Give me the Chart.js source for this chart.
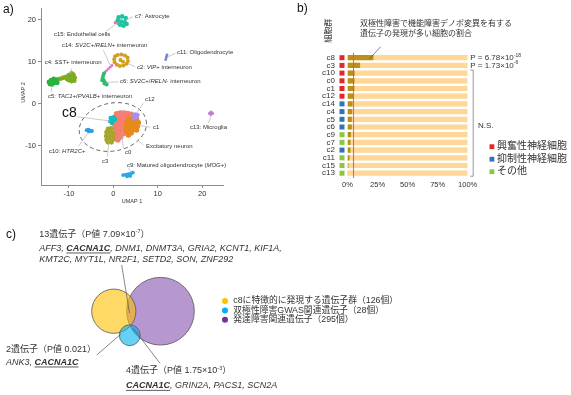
<!DOCTYPE html>
<html>
<head>
<meta charset="utf-8">
<script src="https://cdn.jsdelivr.net/npm/chart.js@4.4.1/dist/chart.umd.min.js"></script>
<style>
    html, body { margin: 0; padding: 0; background: #fff; }
    body { width: 571px; height: 395px; position: relative; overflow: hidden; }
    canvas { position: absolute; }
    #umap { left: 0; top: 0; width: 290px; height: 206px; }
    #bars { left: 290px; top: 0; width: 281px; height: 200px; }
    #venn { left: 0; top: 210px; width: 571px; height: 185px; }
</style>
</head>
<body>
<canvas id="umap" width="290" height="206"></canvas>
<canvas id="bars" width="281" height="200"></canvas>
<canvas id="venn" width="571" height="185"></canvas>

<script>
// ---- panel a: UMAP clusters, [UMAP 1, UMAP 2] ----
const umapC0 = [[0.8,-2.5],[1.6,-2.3],[2.4,-2.3],[3.2,-2.4],[4.0,-2.6],[0.5,-3.3],[1.3,-3.2],[2.1,-3.1],[2.9,-3.2],[3.7,-3.3],
    [0.5,-4.2],[1.3,-4.1],[2.1,-4.0],[2.9,-4.2],[0.5,-5.1],[1.3,-5.0],[2.1,-5.0],[2.8,-5.3],[0.6,-6.0],[1.4,-6.0],[2.2,-6.1],
    [0.7,-6.9],[1.5,-7.0],[2.3,-7.0],[0.8,-7.8],[1.6,-7.8],[1.0,-8.5]];
const umapC1 = [[3.6,-3.6],[4.4,-3.5],[5.2,-3.7],[3.2,-4.4],[4.0,-4.3],[4.8,-4.3],[5.6,-4.5],[3.0,-5.2],[3.8,-5.2],[4.6,-5.1],
    [5.4,-5.3],[3.0,-6.0],[3.8,-6.0],[4.6,-6.0],[5.2,-6.2],[3.2,-6.8],[4.0,-6.9],[3.4,-7.4]];
const umapC2 = [[0.2,10.6],[0.4,11.3],[1.0,11.6],[1.8,11.7],[2.6,11.5],[3.2,11.0],[3.3,10.2],[3.0,9.5],[2.3,9.1],[1.5,9.0],
    [0.8,9.3],[0.3,9.9],[1.6,10.4],[2.2,10.0]];
const umapC3 = [[-1.2,-6.0],[-0.5,-5.9],[-1.5,-6.8],[-0.8,-6.8],[-0.1,-6.9],[-1.6,-7.7],[-0.9,-7.8],[-0.2,-7.6],[-1.5,-8.6],
    [-0.8,-8.7],[0.0,-8.5],[-1.2,-9.2],[-0.4,-9.2]];
const umapC4 = [[-12.5,5.8],[-11.8,6.0],[-11.2,6.2],[-10.6,6.4],[-10.0,6.8],[-9.4,7.2],[-9.0,6.9],[-8.7,6.2],[-8.8,5.5],
    [-9.4,5.4],[-10.0,5.6],[-9.6,6.2],[-10.4,5.9]];
const umapC5 = [[-14.5,5.2],[-14.0,5.6],[-13.4,5.9],[-12.8,5.6],[-13.2,5.0],[-13.8,4.6],[-14.3,4.7],[-12.6,5.0]];
const umapC6 = [[-2.1,7.2],[-2.3,6.6],[-2.4,6.0],[-2.1,5.5],[-1.8,5.0],[-1.5,4.6],[-2.0,4.8],[-2.5,5.6]];
const umapC7 = [[1.2,20.6],[2.0,20.8],[2.8,20.4],[1.0,19.8],[1.8,19.6],[2.6,19.4],[3.0,19.0],[1.5,18.8],[2.3,18.6]];
const umapC8 = [[-0.6,-3.4],[0.1,-3.2],[-0.7,-4.2],[0.0,-4.0],[0.4,-3.7],[-0.3,-4.6]];
const umapC9 = [[2.2,-17.0],[2.8,-16.9],[3.4,-16.8],[4.0,-16.6],[4.4,-16.4],[3.8,-17.2],[3.1,-17.3]];
const umapC10 = [[-6.0,-6.3],[-5.6,-6.2],[-5.2,-6.4],[-4.8,-6.5],[-5.5,-6.6]];
const umapC11 = [[11.8,10.5],[11.9,10.9],[12.0,11.3],[12.1,11.6]];
const umapC12 = [[4.4,-2.6],[5.0,-2.5],[5.5,-2.7],[4.8,-3.1],[5.3,-3.3],[4.6,-3.6]];
const umapC13 = [[21.7,-2.3],[22.0,-2.0],[22.3,-2.3],[22.0,-2.5]];
const umapC14 = [[-0.3,9.1],[-0.7,8.7],[-1.1,8.3],[-1.5,7.9],[-1.8,7.6]];
const umapC15 = [[0.4,19.3],[0.8,19.5],[1.0,19.1]];
const umapTicks = [-10, 0, 10, 20];

// ---- panel b: share of cells expressing BD de novo genes ----
const barClusters = ['c8','c3','c10','c0','c1','c12','c14','c4','c5','c6','c9','c7','c2','c11','c15','c13'];
const pctHighExpr = [21.6, 10.5, 5.9, 5.8, 5.7, 5.0, 4.2, 3.9, 3.6, 3.6, 3.0, 2.5, 2.5, 1.7, 0.8, 0.3];
const cellType = ['ex','ex','ex','ex','ex','ex','in','in','in','in','ot','ot','in','ot','ot','ot'];
const overallPct = 5;
const pctTicks = [0, 25, 50, 75, 100];
const pValues = ['P = 6.78×10<sup>-18</sup>', 'P = 1.73×10<sup>-6</sup>'];

// ---- panel c: Venn of gene sets ----
const vennSets = ['c8に特徴的に発現する遺伝子群', '双極性障害GWAS関連遺伝子', '発達障害関連遺伝子'];
const vennCounts = [126, 28, 295];
const vennCenters = [[0, 0], [8.1, 12.2], [23.7, 0]]; // in sqrt(gene count) units

const SANS = '"Liberation Sans", Arial, "Noto Sans CJK JP", sans-serif';
const TEXT = '#333';

function richSegments(str) {
    const st = { i: false, b: false, u: false, sup: false };
    const segs = [];
    for (const p of str.split(/(<\/?(?:i|b|u|sup)>)/)) {
        if (!p) continue;
        const m = p.match(/^<(\/?)(i|b|u|sup)>$/);
        if (m) { st[m[2]] = !m[1]; continue; }
        segs.push({ text: p, ...st });
    }
    return segs;
}

function drawRich(ctx, str, x, y, size, color) {
    ctx.save();
    ctx.fillStyle = color || TEXT;
    ctx.strokeStyle = color || TEXT;
    ctx.textBaseline = 'middle';
    ctx.textAlign = 'left';
    let cx = x;
    for (const s of richSegments(str)) {
        const fs = s.sup ? size * 0.62 : size;
        ctx.font = `${s.i ? 'italic ' : ''}${s.b ? 'bold ' : ''}${fs}px ${SANS}`;
        ctx.fillText(s.text, cx, y + (s.sup ? -size * 0.32 : 0));
        const w = ctx.measureText(s.text).width;
        if (s.u) {
            ctx.lineWidth = 0.8;
            ctx.beginPath();
            ctx.moveTo(cx, y + size * 0.52);
            ctx.lineTo(cx + w, y + size * 0.52);
            ctx.stroke();
        }
        cx += w;
    }
    ctx.restore();
}

function line(ctx, x1, y1, x2, y2, color, width) {
    ctx.save();
    ctx.strokeStyle = color;
    ctx.lineWidth = width;
    ctx.beginPath();
    ctx.moveTo(x1, y1);
    ctx.lineTo(x2, y2);
    ctx.stroke();
    ctx.restore();
}

// ================= panel a =================
const umapClusters = [
    { name: 'c15', points: umapC15, color: '#F36A96', r: 1.4 },
    { name: 'c7',  points: umapC7,  color: '#22C2A0', r: 2.3 },
    { name: 'c2',  points: umapC2,  color: '#D39E1E', r: 2.0 },
    { name: 'c14', points: umapC14, color: '#E86FD0', r: 1.4 },
    { name: 'c6',  points: umapC6,  color: '#2DBD6E', r: 2.0 },
    { name: 'c4',  points: umapC4,  color: '#7AAE1F', r: 2.4 },
    { name: 'c5',  points: umapC5,  color: '#27B33E', r: 2.4 },
    { name: 'c11', points: umapC11, color: '#7D86DC', r: 1.4 },
    { name: 'c13', points: umapC13, color: '#C77BD8', r: 1.7 },
    { name: 'c10', points: umapC10, color: '#2A9CE8', r: 1.9 },
    { name: 'c9',  points: umapC9,  color: '#25A9E6', r: 1.9 },
    { name: 'c0',  points: umapC0,  color: '#F47F72', r: 3.1 },
    { name: 'c1',  points: umapC1,  color: '#E8891A', r: 2.9 },
    { name: 'c12', points: umapC12, color: '#A98CF0', r: 2.0 },
    { name: 'c8',  points: umapC8,  color: '#14BCC0', r: 2.2 },
    { name: 'c3',  points: umapC3,  color: '#A6A52A', r: 2.4 },
];

const umapLabels = [
    { text: 'c7: Astrocyte', at: [4.89, 20.88], from: [3.0, 20.0], to: [4.44, 20.74] },
    { text: 'c15: Endothelial cells', at: [-13.36, 16.6], from: [1.0, 19.3], to: [-1.5, 17.3] },
    { text: 'c14: <i>SV2C</i>+/<i>RELN</i>+ interneuron', at: [-11.55, 13.98], from: [-0.75, 9.2], to: [-2.25, 12.8] },
    { text: 'c4: <i>SST</i>+ interneuron', at: [-15.43, 9.76], from: [-9.6, 7.0], to: [-9.4, 8.4] },
    { text: 'c2: <i>VIP</i>+ interneuron', at: [5.34, 8.74], from: [3.3, 9.6], to: [4.9, 8.8] },
    { text: 'c11: Oligodendrocyte', at: [14.35, 12.14], from: [12.2, 11.1], to: [14.0, 12.0] },
    { text: 'c6: <i>SV2C</i>+/<i>RELN</i>- interneuron', at: [1.51, 5.24], from: [-1.6, 5.1], to: [1.2, 5.2] },
    { text: 'c5: <i>TAC1</i>+/<i>PVALB</i>+ interneuron', at: [-14.7, 1.67], from: [-13.9, 4.3], to: [-13.9, 2.8] },
    { text: 'c12', at: [7.14, 1.12], from: [5.3, -2.3], to: [6.75, 0.1] },
    { text: 'c8', at: [-11.55, -2.21], from: [-0.75, -4.1], to: [-8.25, -3.1], size: 14 },
    { text: 'c1', at: [8.94, -5.55], from: [5.6, -5.1], to: [8.3, -5.6] },
    { text: 'c13: Microglia', at: [17.27, -5.55], from: [22.1, -2.7], to: [21.4, -4.6] },
    { text: 'c10: <i>HTR2C</i>+', at: [-14.48, -11.26], from: [-5.6, -6.9], to: [-7.9, -10.2] },
    { text: 'c3', at: [-2.55, -13.81], from: [-0.9, -8.6], to: [-1.35, -12.6] },
    { text: 'c0', at: [2.64, -11.67], from: [1.9, -6.7], to: [2.25, -10.6] },
    { text: 'Excitatory neuron', at: [7.36, -10.24], from: [5.3, -8.5], to: [6.75, -9.8] },
    { text: 'c9: Matured oligodendrocyte (<i>MOG</i>+)', at: [3.09, -14.6], from: [4.1, -16.5], to: [3.4, -15.4] },
];
const excitatoryRing = { center: [-0.1, -5.55], rx: 7.65, ry: 5.7 };

const umapAnnotations = {
    id: 'umapAnnotations',
    afterDatasetsDraw(chart) {
        const { ctx, scales: { x, y }, chartArea } = chart;
        // dashed ellipse round the excitatory clusters
        ctx.save();
        ctx.setLineDash([4, 3]);
        ctx.strokeStyle = '#555';
        ctx.lineWidth = 0.9;
        ctx.beginPath();
        ctx.ellipse(x.getPixelForValue(excitatoryRing.center[0]), y.getPixelForValue(excitatoryRing.center[1]),
            x.getPixelForValue(excitatoryRing.rx) - x.getPixelForValue(0),
            y.getPixelForValue(0) - y.getPixelForValue(excitatoryRing.ry), -0.2, 0, Math.PI * 2);
        ctx.stroke();
        ctx.restore();

        umapLabels.forEach(l => {
            line(ctx, x.getPixelForValue(l.from[0]), y.getPixelForValue(l.from[1]),
                x.getPixelForValue(l.to[0]), y.getPixelForValue(l.to[1]), '#b5b5b5', 0.7);
        });
        umapLabels.forEach(l => {
            drawRich(ctx, l.text, x.getPixelForValue(l.at[0]), y.getPixelForValue(l.at[1]), l.size || 6, l.size ? '#111' : TEXT);
        });

        // axis titles
        ctx.save();
        ctx.fillStyle = TEXT;
        ctx.font = `5.5px ${SANS}`;
        ctx.textAlign = 'center';
        ctx.textBaseline = 'middle';
        ctx.fillText('UMAP 1', (chartArea.left + chartArea.right) / 2, 201);
        ctx.translate(23, (chartArea.top + chartArea.bottom) / 2 - 4);
        ctx.rotate(-Math.PI / 2);
        ctx.fillText('UMAP 2', 0, 0);
        ctx.restore();

        ctx.save();
        ctx.fillStyle = '#111';
        ctx.font = `12px ${SANS}`;
        ctx.textBaseline = 'middle';
        ctx.fillText('a)', 3, 10);
        ctx.restore();
    }
};

const axisStyle = {
    grid: { display: true, drawOnChartArea: false, drawTicks: true, tickLength: 3, color: '#8c8c8c' },
    border: { color: '#8c8c8c', width: 1 },
};

new Chart(document.getElementById('umap'), {
    type: 'scatter',
    data: {
        datasets: umapClusters.map((c, i) => ({
            label: c.name,
            data: c.points.map(([px, py]) => ({ x: px, y: py })),
            backgroundColor: c.color,
            borderWidth: 0,
            pointRadius: c.r,
            order: umapClusters.length - i
        }))
    },
    options: {
        responsive: false,
        animation: false,
        layout: { autoPadding: false, padding: { left: 0, top: 8, right: 67, bottom: 0 } },
        plugins: { legend: { display: false }, tooltip: { enabled: false } },
        scales: {
            x: {
                type: 'linear', min: -16.28, max: 24.7,
                afterBuildTicks: s => { s.ticks = umapTicks.map(v => ({ value: v })); },
                afterFit: s => { s.height = 21; },
                ...axisStyle,
                ticks: { font: { size: 7.5, family: SANS }, color: TEXT, padding: 1, maxRotation: 0 }
            },
            y: {
                type: 'linear', min: -19.36, max: 22.8,
                afterBuildTicks: s => { s.ticks = umapTicks.map(v => ({ value: v })); },
                afterFit: s => { s.width = 41; },
                ...axisStyle,
                ticks: { font: { size: 7.5, family: SANS }, color: TEXT, padding: 2 }
            }
        }
    },
    plugins: [umapAnnotations]
});

// ================= panel b =================
const typeColors = { ex: '#E3262B', in: '#2E75B6', ot: '#8CC63F' };
const typeNames = [['ex', '興奮性神経細胞'], ['in', '抑制性神経細胞'], ['ot', 'その他']];

const barAnnotations = {
    id: 'barAnnotations',
    afterDatasetsDraw(chart) {
        const { ctx, scales: { x, y }, chartArea } = chart;

        // overall share
        const xr = x.getPixelForValue(overallPct);
        line(ctx, xr, chartArea.top - 1, xr, chartArea.bottom + 1, 'rgba(240, 80, 70, 0.85)', 1.1);

        // cell type squares
        barClusters.forEach((c, i) => {
            ctx.fillStyle = typeColors[cellType[i]];
            ctx.fillRect(49.5, y.getPixelForValue(i) - 2.5, 5, 5);
        });

        ctx.save();
        ctx.fillStyle = '#111';
        ctx.font = `12px ${SANS}`;
        ctx.textBaseline = 'middle';
        ctx.fillText('b)', 7, 9);

        ctx.fillStyle = TEXT;
        ctx.font = `8px ${SANS}`;
        ctx.save();
        ctx.translate(38.3, 30.8);
        ctx.rotate(-Math.PI / 2);
        ctx.textAlign = 'center';
        ctx.fillText('細胞群', 0, 0);
        ctx.restore();
        ctx.fillText('双極性障害で機能障害デノボ変異を有する', 70, 23.3);
        ctx.fillText('遺伝子の発現が多い細胞の割合', 70, 33.3);
        ctx.restore();
        line(ctx, 90.7, 46.7, 79.3, 59, '#555', 0.7);

        pValues.forEach((p, i) => drawRich(ctx, p, x.right + 2.5, y.getPixelForValue(i), 8));

        // N.S. bracket
        const yTop = y.getPixelForValue(2) - 3, yBot = y.getPixelForValue(barClusters.length - 1) + 3;
        ctx.save();
        ctx.strokeStyle = '#8c8c8c';
        ctx.lineWidth = 0.9;
        ctx.beginPath();
        ctx.moveTo(x.right + 2.5, yTop);
        ctx.lineTo(x.right + 5.5, yTop);
        ctx.lineTo(x.right + 5.5, yBot);
        ctx.lineTo(x.right + 2.5, yBot);
        ctx.stroke();
        ctx.restore();
        drawRich(ctx, 'N.S.', 188, 126, 8);

        // legend
        typeNames.forEach(([k, name], i) => {
            ctx.fillStyle = typeColors[k];
            ctx.fillRect(199.5, 144.3 + i * 12.5, 4.8, 4.8);
            drawRich(ctx, name, 207, 146.7 + i * 12.5, 10);
        });
    }
};

new Chart(document.getElementById('bars'), {
    type: 'bar',
    data: {
        labels: barClusters,
        datasets: [{
            label: 'high expression',
            data: pctHighExpr,
            backgroundColor: '#B8901A',
            grouped: false,
            barPercentage: 0.68,
            categoryPercentage: 1
        }, {
            label: 'all cells',
            data: barClusters.map(() => 100),
            backgroundColor: '#FFD796',
            grouped: false,
            barPercentage: 0.68,
            categoryPercentage: 1
        }]
    },
    options: {
        indexAxis: 'y',
        responsive: false,
        animation: false,
        layout: { autoPadding: false, padding: { left: 0, top: 53.85, right: 103.3, bottom: 0 } },
        plugins: { legend: { display: false }, tooltip: { enabled: false } },
        scales: {
            x: {
                min: 0, max: 100,
                afterBuildTicks: s => { s.ticks = pctTicks.map(v => ({ value: v })); },
                afterFit: s => { s.height = 200 - 177.05; },
                grid: { display: false, drawTicks: false },
                border: { display: false },
                ticks: { callback: v => v + '%', font: { size: 7.5, family: SANS }, color: TEXT, padding: 3, maxRotation: 0 }
            },
            y: {
                afterFit: s => { s.width = 57.5; },
                grid: { display: false, drawTicks: false },
                border: { display: false },
                ticks: { autoSkip: false, font: { size: 8, family: SANS }, color: TEXT, padding: 12.5 }
            }
        }
    },
    plugins: [barAnnotations]
});

// ================= panel c =================
const PX_PER_UNIT = 1.97;
const vennFill = ['rgba(255, 192, 0, 0.6)', 'rgba(0, 176, 240, 0.6)', 'rgba(112, 48, 160, 0.5)'];
const vennDot = ['#FFC000', '#00B0F0', '#7030A0'];
const vennDrawOrder = [1, 0, 2]; // blue on top, purple at the bottom
const OFF = 210;

const vennAnnotations = {
    id: 'vennAnnotations',
    afterDatasetsDraw(chart) {
        const { ctx } = chart;
        line(ctx, 121.7, 265 - OFF, 129.5, 313 - OFF, '#555', 0.7);
        line(ctx, 96.7, 355 - OFF, 121, 334 - OFF, '#555', 0.7);
        line(ctx, 160, 363.3 - OFF, 133.3, 328.3 - OFF, '#555', 0.7);

        ctx.save();
        ctx.fillStyle = '#111';
        ctx.font = `12px ${SANS}`;
        ctx.textBaseline = 'middle';
        ctx.fillText('c)', 6, 235 - OFF);
        ctx.restore();

        drawRich(ctx, '13遺伝子（P値 7.09×10<sup>-7</sup>）', 39.3, 234.3 - OFF, 9);
        drawRich(ctx, '<i>AFF3, </i><b><i><u>CACNA1C</u></i></b><i>, DNM1, DNMT3A, GRIA2, KCNT1, KIF1A,</i>', 39.3, 248.3 - OFF, 9);
        drawRich(ctx, '<i>KMT2C, MYT1L, NR2F1, SETD2, SON, ZNF292</i>', 39.3, 259 - OFF, 9);

        drawRich(ctx, '2遺伝子（P値 0.021）', 6, 350 - OFF, 9);
        drawRich(ctx, '<i>ANK3, </i><b><i><u>CACNA1C</u></i></b>', 6, 362.3 - OFF, 9);

        drawRich(ctx, '4遺伝子（P値 1.75×10<sup>-3</sup>）', 126, 371 - OFF, 9);
        drawRich(ctx, '<b><i><u>CACNA1C</u></i></b><i>, GRIN2A, PACS1, SCN2A</i>', 126, 385.7 - OFF, 9);

        // legend
        vennSets.forEach((name, i) => {
            const yy = 301 + i * 9.4 - OFF;
            ctx.fillStyle = vennDot[i];
            ctx.beginPath();
            ctx.arc(225, yy, 3, 0, Math.PI * 2);
            ctx.fill();
            drawRich(ctx, `${name}（${vennCounts[i]}個）`, 233.3, yy, 8.8);
        });
    }
};

new Chart(document.getElementById('venn'), {
    type: 'bubble',
    data: {
        datasets: vennSets.map((name, i) => ({
            label: name,
            data: [{ x: vennCenters[i][0], y: vennCenters[i][1], r: Math.sqrt(vennCounts[i]) * PX_PER_UNIT }],
            backgroundColor: vennFill[i],
            borderColor: '#555',
            borderWidth: 0.8,
            order: vennDrawOrder[i]
        }))
    },
    options: {
        responsive: false,
        animation: false,
        layout: { autoPadding: false, padding: 0 },
        plugins: { legend: { display: false }, tooltip: { enabled: false } },
        scales: {
            x: { type: 'linear', display: false, min: -113.8 / PX_PER_UNIT, max: (571 - 113.8) / PX_PER_UNIT },
            y: { type: 'linear', display: false, reverse: true, min: -(311.2 - OFF) / PX_PER_UNIT, max: (185 - (311.2 - OFF)) / PX_PER_UNIT }
        }
    },
    plugins: [vennAnnotations]
});
</script>
